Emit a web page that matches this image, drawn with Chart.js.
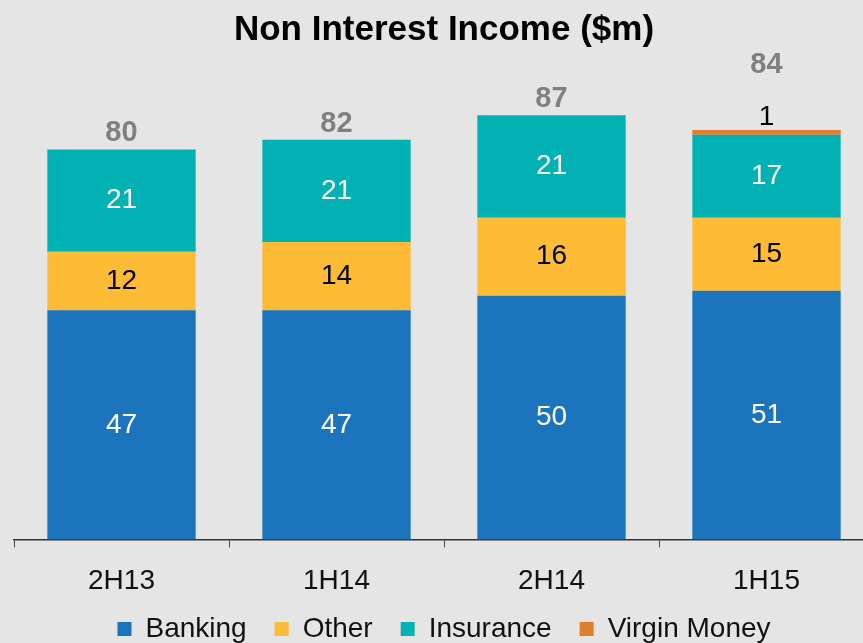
<!DOCTYPE html>
<html>
<head>
<meta charset="utf-8">
<script src="https://cdn.jsdelivr.net/npm/chart.js@4"></script>
<style>
  html, body { margin: 0; padding: 0; background: #e4e5e4; overflow: hidden; }
  #wrap { width: 896px; height: 643px; }
</style>
</head>
<body>
<div id="wrap"><canvas id="incomeChart"></canvas></div>
<script>
// Data
var periods = ['2H13', '1H14', '2H14', '1H15'];
var banking = [47, 47, 50, 51];
var other = [12, 14, 16, 15];
var insurance = [21, 21, 21, 17];
var virginMoney = [0, 0, 0, 1];
var totals = [80, 82, 87, 84];

Chart.defaults.font.family = '"Liberation Sans", Arial, sans-serif';

// Draws the numbers inside segments and the totals on top
var labelPlugin = {
    id: 'segmentLabels',
    afterDatasetsDraw: function (chart) {
        var ctx = chart.ctx;
        ctx.save();
        ctx.textAlign = 'center';
        ctx.textBaseline = 'middle';
        var last = chart.data.datasets.length - 1;
        periods.forEach(function (p, i) {
            var topY = null, hasSmall = false;
            chart.data.datasets.forEach(function (ds, d) {
                var el = chart.getDatasetMeta(d).data[i];
                var v = ds.data[i];
                if (!v) return;
                topY = el.y;
                ctx.font = '28px "Liberation Sans", Arial, sans-serif';
                ctx.fillStyle = ds.labelColor;
                if (d === last) {
                    hasSmall = true;
                    ctx.fillText(v, el.x, el.y - 13);
                } else {
                    ctx.fillText(v, el.x, (el.y + el.base) / 2);
                }
            });
            var x = chart.getDatasetMeta(0).data[i].x;
            ctx.font = 'bold 29px "Liberation Sans", Arial, sans-serif';
            ctx.fillStyle = '#808080';
            ctx.fillText(totals[i], x, topY - (hasSmall ? 65 : 16));
        });
        ctx.restore();
    }
};

var ctx = document.getElementById('incomeChart').getContext('2d');
var chart = new Chart(ctx, {
    type: 'bar',
    data: {
        labels: periods,
        datasets: [
            { label: 'Banking', data: banking, backgroundColor: '#1c75bc', labelColor: '#ffffff' },
            { label: 'Other', data: other, backgroundColor: '#fdbb36', labelColor: '#000000' },
            { label: 'Insurance', data: insurance, backgroundColor: '#02b1b4', labelColor: '#ffffff' },
            { label: 'Virgin Money', data: virginMoney, backgroundColor: '#df7f2a', labelColor: '#000000' }
        ]
    },
    options: {
        responsive: true,
        maintainAspectRatio: false,
        animation: false,
        layout: { padding: { left: 14, right: 22, top: 0, bottom: -10 } },
        datasets: {
            bar: { categoryPercentage: 1, barPercentage: 0.69, borderWidth: 0 }
        },
        scales: {
            x: {
                stacked: true,
                grid: { display: true, offset: true, drawOnChartArea: false, tickLength: 8, color: '#444', lineWidth: 1 },
                border: { display: true, color: '#333', width: 1.5 },
                ticks: { color: '#111', font: { size: 28 }, padding: 17 }
            },
            y: {
                stacked: true,
                display: false,
                min: 0,
                max: 100
            }
        },
        plugins: {
            title: {
                display: true,
                text: 'Non Interest Income ($m)',
                color: '#000',
                font: { size: 35, weight: 'bold' },
                padding: { top: 9, bottom: 1 }
            },
            legend: {
                position: 'bottom',
                labels: {
                    boxWidth: 14, boxHeight: 14, color: '#111', font: { size: 28 }, padding: 0,
                    generateLabels: function (chart) {
                        var items = Chart.defaults.plugins.legend.labels.generateLabels(chart);
                        items.forEach(function (it, k) {
                            if (k < items.length - 1) it.text = it.text + '\u2002\u2002';
                        });
                        return items;
                    }
                }
            },
            tooltip: { enabled: false }
        }
    },
    plugins: [labelPlugin]
});
</script>
</body>
</html>
